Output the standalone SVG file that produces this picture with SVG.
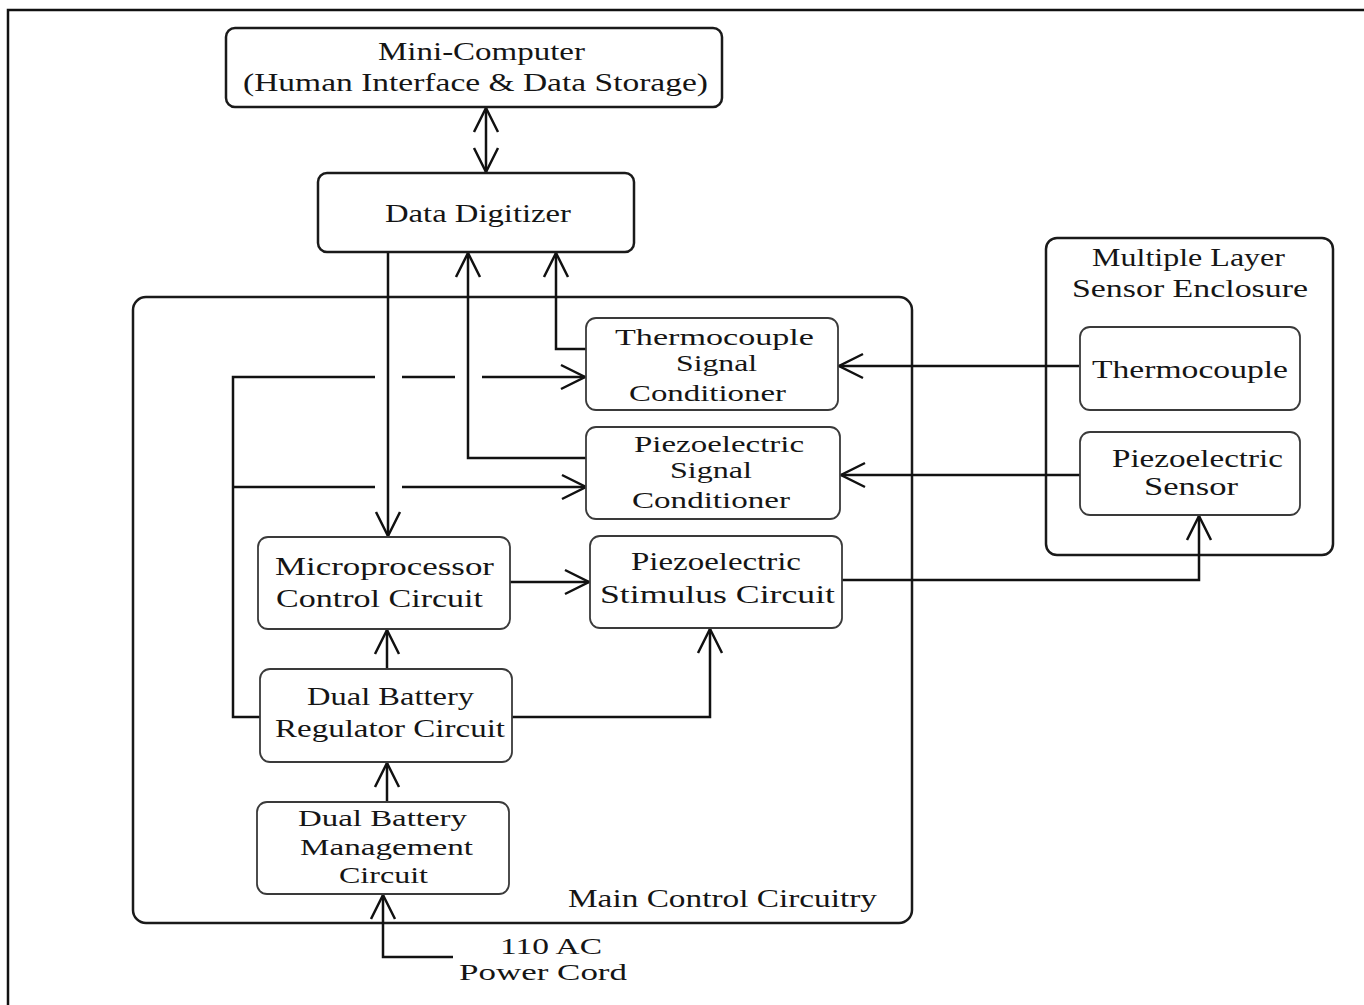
<svg xmlns="http://www.w3.org/2000/svg" width="1364" height="1005" viewBox="0 0 1364 1005">
<style>
  text { font-family: "Liberation Serif", "Times New Roman", serif; font-size: 26px; fill: #151515; }
  .tight { font-size: 23px; }
  .box { fill: #fff; stroke: #1a1a1a; stroke-width: 2.5; }
  .ibox { fill: #fff; stroke: #3a3a3a; stroke-width: 1.8; }
  .con { fill: none; stroke: #111; stroke-width: 2.5; }
  .arr { marker-end: url(#ah); }
</style>
<defs>
  <marker id="ah" markerUnits="userSpaceOnUse" markerWidth="30" markerHeight="30" viewBox="0 0 30 30" refX="27" refY="15" orient="auto">
    <path d="M3,3 L27,15 L3,27" fill="none" stroke="#111" stroke-width="2.5"/>
  </marker>
  <marker id="ahs" markerUnits="userSpaceOnUse" markerWidth="30" markerHeight="30" viewBox="0 0 30 30" refX="27" refY="15" orient="auto-start-reverse">
    <path d="M3,3 L27,15 L3,27" fill="none" stroke="#111" stroke-width="2.5"/>
  </marker>
</defs>
<rect width="1364" height="1005" fill="#fff"/>
<path d="M8,1005 L8,10 L1364,10" fill="none" stroke="#111" stroke-width="2.5"/>

<g id="main-control">
  <rect class="box" x="133" y="297" width="779" height="626" rx="13"/>
  <text x="568" y="907" textLength="309" lengthAdjust="spacingAndGlyphs">Main Control Circuitry</text>
</g>

<g id="sensor-enclosure">
  <rect class="box" x="1046" y="238" width="287" height="317" rx="11"/>
  <text x="1092" y="266" textLength="193" lengthAdjust="spacingAndGlyphs">Multiple Layer</text>
  <text x="1072" y="297" textLength="236" lengthAdjust="spacingAndGlyphs">Sensor Enclosure</text>
</g>

<g id="connectors">
  <path class="con" d="M486,108 L486,172" marker-start="url(#ahs)" marker-end="url(#ah)"/>
  <path class="con arr" d="M388,252 L388,536"/>
  <path class="con arr" d="M586,458 L468,458 L468,253"/>
  <path class="con arr" d="M586,349 L556,349 L556,253"/>
  <path class="con" d="M260,717 L233,717 L233,377 L375,377"/>
  <path class="con" d="M402,377 L455,377"/>
  <path class="con arr" d="M482,377 L585,377"/>
  <path class="con" d="M233,487 L375,487"/>
  <path class="con arr" d="M402,487 L586,487"/>
  <path class="con arr" d="M1079,366 L839,366"/>
  <path class="con arr" d="M1080,475 L841,475"/>
  <path class="con arr" d="M510,582 L589,582"/>
  <path class="con arr" d="M842,580 L1199,580 L1199,516"/>
  <path class="con arr" d="M387,669 L387,630"/>
  <path class="con arr" d="M512,717 L710,717 L710,629"/>
  <path class="con arr" d="M387,802 L387,763"/>
  <path class="con arr" d="M453,957 L383,957 L383,895"/>
</g>

<g id="mini-computer">
  <rect class="box" x="226" y="28" width="496" height="79" rx="9"/>
  <text x="378" y="60" textLength="207" lengthAdjust="spacingAndGlyphs">Mini-Computer</text>
  <text x="243" y="91" textLength="465" lengthAdjust="spacingAndGlyphs">(Human Interface &amp; Data Storage)</text>
</g>

<g id="data-digitizer">
  <rect class="box" x="318" y="173" width="316" height="79" rx="9"/>
  <text x="385" y="222" textLength="186" lengthAdjust="spacingAndGlyphs">Data  Digitizer</text>
</g>

<g id="thermocouple-signal-conditioner">
  <rect class="ibox" x="586" y="318" width="252" height="92" rx="10"/>
  <text class="tight" x="615" y="345" textLength="199" lengthAdjust="spacingAndGlyphs">Thermocouple</text>
  <text class="tight" x="676" y="371" textLength="81" lengthAdjust="spacingAndGlyphs">Signal</text>
  <text class="tight" x="629" y="401" textLength="157" lengthAdjust="spacingAndGlyphs">Conditioner</text>
</g>

<g id="piezoelectric-signal-conditioner">
  <rect class="ibox" x="586" y="427" width="254" height="92" rx="10"/>
  <text class="tight" x="634" y="452" textLength="170" lengthAdjust="spacingAndGlyphs">Piezoelectric</text>
  <text class="tight" x="670" y="478" textLength="82" lengthAdjust="spacingAndGlyphs">Signal</text>
  <text class="tight" x="632" y="508" textLength="158" lengthAdjust="spacingAndGlyphs">Conditioner</text>
</g>

<g id="thermocouple">
  <rect class="ibox" x="1080" y="327" width="220" height="83" rx="10"/>
  <text x="1092" y="378" textLength="196" lengthAdjust="spacingAndGlyphs">Thermocouple</text>
</g>

<g id="piezoelectric-sensor">
  <rect class="ibox" x="1080" y="432" width="220" height="83" rx="10"/>
  <text x="1112" y="467" textLength="171" lengthAdjust="spacingAndGlyphs">Piezoelectric</text>
  <text x="1144" y="495" textLength="94" lengthAdjust="spacingAndGlyphs">Sensor</text>
</g>

<g id="microprocessor-control-circuit">
  <rect class="ibox" x="258" y="537" width="252" height="92" rx="10"/>
  <text x="275" y="575" textLength="219" lengthAdjust="spacingAndGlyphs">Microprocessor</text>
  <text x="276" y="607" textLength="207" lengthAdjust="spacingAndGlyphs">Control  Circuit</text>
</g>

<g id="piezoelectric-stimulus-circuit">
  <rect class="ibox" x="590" y="536" width="252" height="92" rx="10"/>
  <text x="631" y="570" textLength="170" lengthAdjust="spacingAndGlyphs">Piezoelectric</text>
  <text x="600" y="603" textLength="235" lengthAdjust="spacingAndGlyphs">Stimulus Circuit</text>
</g>

<g id="dual-battery-regulator-circuit">
  <rect class="ibox" x="260" y="669" width="252" height="93" rx="10"/>
  <text x="307" y="705" textLength="167" lengthAdjust="spacingAndGlyphs">Dual Battery</text>
  <text x="275" y="737" textLength="230" lengthAdjust="spacingAndGlyphs">Regulator Circuit</text>
</g>

<g id="dual-battery-management-circuit">
  <rect class="ibox" x="257" y="802" width="252" height="92" rx="10"/>
  <text class="tight" x="298" y="826" textLength="169" lengthAdjust="spacingAndGlyphs">Dual Battery</text>
  <text class="tight" x="300" y="855" textLength="173" lengthAdjust="spacingAndGlyphs">Management</text>
  <text class="tight" x="339" y="883" textLength="89" lengthAdjust="spacingAndGlyphs">Circuit</text>
</g>

<g id="power-cord">
  <text class="tight" x="500" y="954" textLength="102" lengthAdjust="spacingAndGlyphs">110 AC</text>
  <text class="tight" x="459" y="980" textLength="168" lengthAdjust="spacingAndGlyphs">Power Cord</text>
</g>
</svg>
